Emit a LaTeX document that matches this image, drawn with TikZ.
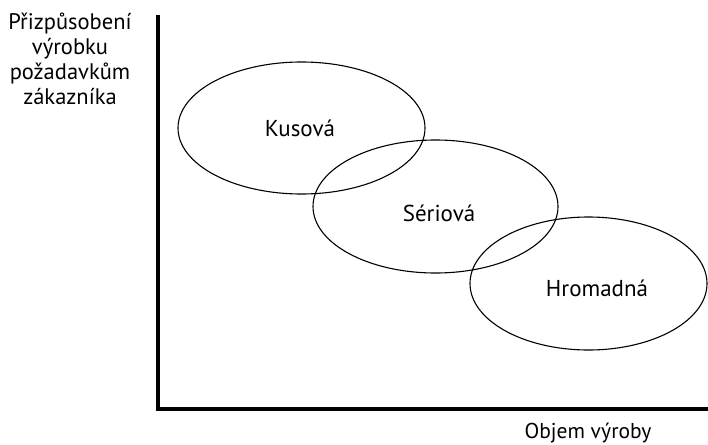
\documentclass[tikz,border=0pt]{standalone}
\usepackage{fontspec}
\setmainfont{PT Sans}
\usetikzlibrary{shapes.geometric}
\begin{document}
\begin{tikzpicture}[x=1pt,y=-1pt,
  oval/.style={draw, ellipse, line width=1.1pt, inner sep=0pt},
  lbl/.style={font=\fontsize{23}{23}\selectfont, inner sep=0pt},
  axis/.style={line width=4.5pt}]
\useasboundingbox (0,0) rectangle (708,444);
\node[oval, minimum width=247pt, minimum height=132pt] (kus) at (301.5,128) {};
\node[oval, minimum width=245pt, minimum height=133pt] (ser) at (435.5,206.5) {};
\node[oval, minimum width=237pt, minimum height=133pt] (hro) at (588.5,283.5) {};
\node[lbl] (tkus) at (300,128) {Kusová};
\node[lbl] (tser) at (439,213) {Sériová};
\node[lbl] (thro) at (597,288) {Hromadná};
\coordinate (top) at (158,15);
\coordinate (orig) at (158,409);
\coordinate (right) at (708,409);
\draw[axis] (top) -- (orig.center) -- (right);
\node[lbl, align=center, font=\fontsize{22.5}{25}\selectfont] (ylab) at (70,59) {Přizpůsobení\\výrobku\\požadavkům\\zákazníka};
\node[lbl, font=\fontsize{21.5}{22}\selectfont, anchor=base] (xlab) at (588,438.5) {Objem výroby};
\end{tikzpicture}
\end{document}
